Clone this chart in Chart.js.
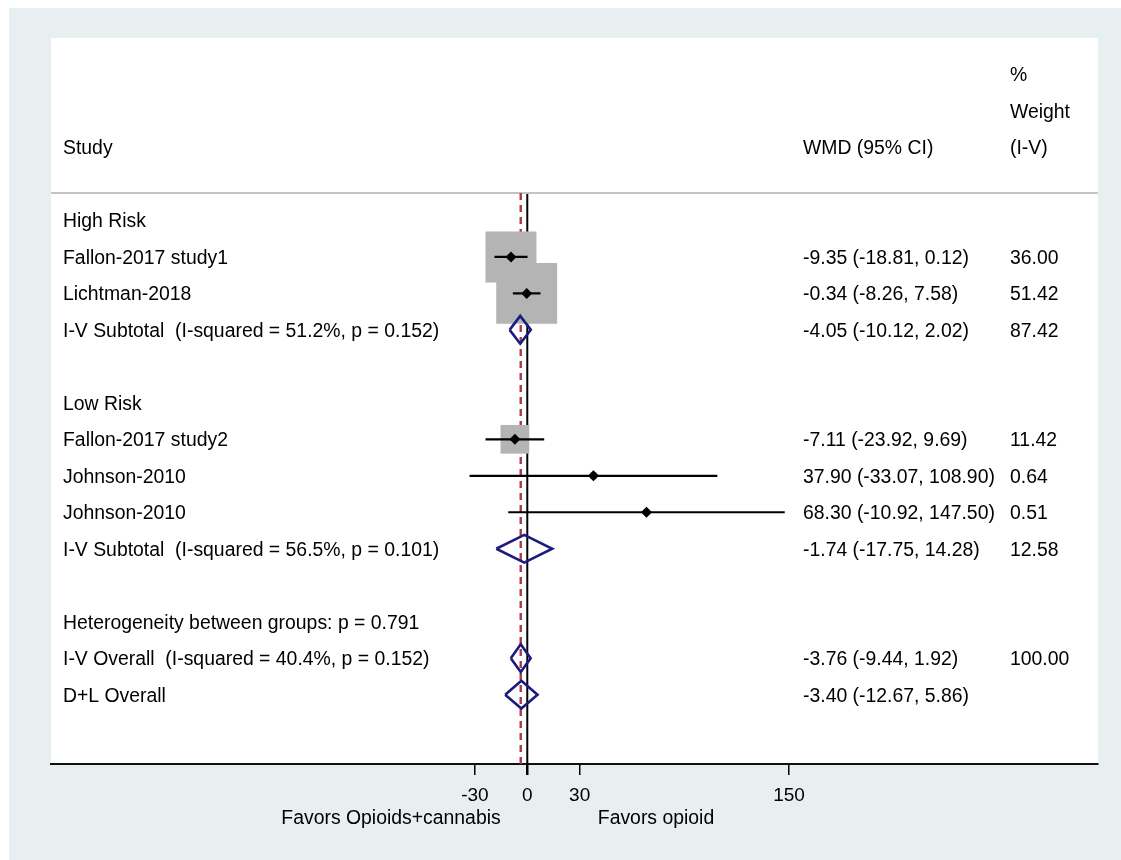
<!DOCTYPE html>
<html>
<head>
<meta charset="utf-8">
<script src="https://cdn.jsdelivr.net/npm/chart.js@4.4.0/dist/chart.umd.min.js"></script>
<style>
  body { margin: 0; background: #fff; }
  canvas { display: block; }
</style>
</head>
<body>
<canvas id="forest" width="1121" height="860"></canvas>
<script>
// individual studies
const studyRows = [1, 2, 6, 7, 8];
const studyWmd = [-9.35, -0.34, -7.11, 37.90, 68.30];
const studyLower = [-18.81, -8.26, -23.92, -33.07, -10.92];
const studyUpper = [0.12, 7.58, 9.69, 108.90, 147.50];
const studyWeight = [36.00, 51.42, 11.42, 0.64, 0.51];

// pooled estimates (diamonds)
const pooledRows = [3, 9, 12, 13];
const pooledWmd = [-4.05, -1.74, -3.76, -3.40];
const pooledLower = [-10.12, -17.75, -9.44, -12.67];
const pooledUpper = [2.02, 14.28, 1.92, 5.86];

const overallEffect = -3.76;
const tickValues = [-30, 0, 30, 150];

// text columns, one entry per row 0..13
const rowLabels = [
    "High Risk",
    "Fallon-2017 study1",
    "Lichtman-2018",
    "I-V Subtotal  (I-squared = 51.2%, p = 0.152)",
    "",
    "Low Risk",
    "Fallon-2017 study2",
    "Johnson-2010",
    "Johnson-2010",
    "I-V Subtotal  (I-squared = 56.5%, p = 0.101)",
    "",
    "Heterogeneity between groups: p = 0.791",
    "I-V Overall  (I-squared = 40.4%, p = 0.152)",
    "D+L Overall"
];
const effectText = [
    "", "-9.35 (-18.81, 0.12)", "-0.34 (-8.26, 7.58)", "-4.05 (-10.12, 2.02)", "",
    "", "-7.11 (-23.92, 9.69)", "37.90 (-33.07, 108.90)", "68.30 (-10.92, 147.50)",
    "-1.74 (-17.75, 14.28)", "", "", "-3.76 (-9.44, 1.92)", "-3.40 (-12.67, 5.86)"
];
const weightText = [
    "", "36.00", "51.42", "87.42", "", "", "11.42", "0.64", "0.51", "12.58",
    "", "", "100.00", ""
];

const xMin = -272.9;
const xMax = 327.0;
const yTop = -5;
const yBottom = 14.9;
const ruleRow = -0.75;

const FAMILY = '"Liberation Sans", Arial, sans-serif';
const FONT = '19.4px ' + FAMILY;

const ciDatasets = studyRows.map((r, i) => ({
    data: [{ x: studyLower[i], y: r }, { x: studyUpper[i], y: r }],
    showLine: true,
    borderColor: '#000',
    borderWidth: 2.2,
    pointRadius: 0,
    order: 7
}));

const diamondDatasets = pooledRows.map((r, i) => ({
    data: [
        { x: pooledLower[i], y: r },
        { x: pooledWmd[i], y: r - 0.38 },
        { x: pooledUpper[i], y: r },
        { x: pooledWmd[i], y: r + 0.38 },
        { x: pooledLower[i], y: r }
    ],
    showLine: true,
    borderColor: '#1c1c7e',
    borderWidth: 2.6,
    borderJoinStyle: 'miter',
    pointRadius: 0,
    tension: 0,
    order: 6
}));

const backgroundPlugin = {
    id: 'background',
    beforeDraw(chart) {
        const ctx = chart.ctx;
        const a = chart.chartArea;
        ctx.save();
        ctx.fillStyle = '#ffffff';
        ctx.fillRect(0, 0, chart.width, chart.height);
        ctx.fillStyle = '#e8eff1';
        ctx.fillRect(9, 8, chart.width - 9, chart.height - 8);
        ctx.fillStyle = '#ffffff';
        ctx.fillRect(a.left, a.top, a.right - a.left, a.bottom - a.top);
        ctx.restore();
    }
};

const textPlugin = {
    id: 'forestText',
    afterDraw(chart) {
        const ctx = chart.ctx;
        const a = chart.chartArea;
        const y = chart.scales.y;
        const colStudy = a.left + 12;
        const colEffect = 803;
        const colWeight = 1010;
        ctx.save();
        ctx.font = FONT;
        ctx.fillStyle = '#000';
        ctx.textBaseline = 'middle';
        ctx.textAlign = 'left';

        ctx.fillText("Study", colStudy, y.getPixelForValue(-2) + 1.5);
        ctx.fillText("WMD (95% CI)", colEffect, y.getPixelForValue(-2) + 1.5);
        ctx.fillText("%", colWeight, y.getPixelForValue(-4) + 1.5);
        ctx.fillText("Weight", colWeight, y.getPixelForValue(-3) + 1.5);
        ctx.fillText("(I-V)", colWeight, y.getPixelForValue(-2) + 1.5);

        rowLabels.forEach((t, r) => {
            const py = y.getPixelForValue(r) + 1.5;
            ctx.fillText(t, colStudy, py);
            ctx.fillText(effectText[r], colEffect, py);
            ctx.fillText(weightText[r], colWeight, py);
        });

        ctx.textAlign = 'center';
        ctx.fillText("Favors Opioids+cannabis", 391, 819);
        ctx.fillText("Favors opioid", 656, 819);
        ctx.restore();
    }
};

new Chart(
    document.getElementById('forest'),
    {
        type: 'scatter',
        data: {
            datasets: [
                // point estimates
                {
                    data: studyRows.map((r, i) => ({ x: studyWmd[i], y: r })),
                    pointStyle: 'rectRot',
                    pointRadius: 5.5,
                    backgroundColor: '#000',
                    borderColor: '#000',
                    borderWidth: 0,
                    order: 5
                },
                ...diamondDatasets,
                ...ciDatasets,
                // weight boxes
                {
                    data: studyRows.map((r, i) => ({ x: studyWmd[i], y: r })),
                    pointStyle: 'rect',
                    pointRadius: studyWeight.map(w => 6.01 * Math.sqrt(w)),
                    backgroundColor: '#b4b4b4',
                    borderWidth: 0,
                    order: 8
                },
                // overall effect line
                {
                    data: [{ x: overallEffect, y: ruleRow }, { x: overallEffect, y: yBottom }],
                    showLine: true,
                    borderColor: '#a63c4a',
                    borderWidth: 2.4,
                    borderDash: [7, 5],
                    pointRadius: 0,
                    order: 9
                },
                // header rule
                {
                    data: [{ x: xMin, y: ruleRow }, { x: xMax, y: ruleRow }],
                    showLine: true,
                    borderColor: '#c4c4c4',
                    borderWidth: 2,
                    pointRadius: 0,
                    order: 9
                },
                // null line
                {
                    data: [{ x: 0, y: ruleRow }, { x: 0, y: yBottom }],
                    showLine: true,
                    borderColor: '#000',
                    borderWidth: 2,
                    pointRadius: 0,
                    order: 10
                }
            ]
        },
        options: {
            responsive: false,
            animation: false,
            layout: {
                autoPadding: false,
                padding: { left: 51, right: 23, top: 38, bottom: 0 }
            },
            plugins: {
                legend: { display: false },
                tooltip: { enabled: false }
            },
            scales: {
                x: {
                    type: 'linear',
                    min: xMin,
                    max: xMax,
                    afterBuildTicks(scale) {
                        scale.ticks = tickValues.map(v => ({ value: v }));
                    },
                    afterFit(scale) {
                        scale.height = 96;
                    },
                    grid: {
                        drawOnChartArea: false,
                        drawTicks: true,
                        tickLength: 11,
                        color: '#000',
                        lineWidth: ctx => (ctx.tick && ctx.tick.value === 0 ? 2.5 : 1.5)
                    },
                    border: { display: true, color: '#111', width: 2 },
                    ticks: {
                        color: '#000',
                        padding: 9,
                        maxRotation: 0,
                        autoSkip: false,
                        font: { family: FAMILY, size: 19 }
                    }
                },
                y: {
                    type: 'linear',
                    display: false,
                    reverse: true,
                    min: yTop,
                    max: yBottom
                }
            }
        },
        plugins: [backgroundPlugin, textPlugin]
    }
);
</script>
</body>
</html>
